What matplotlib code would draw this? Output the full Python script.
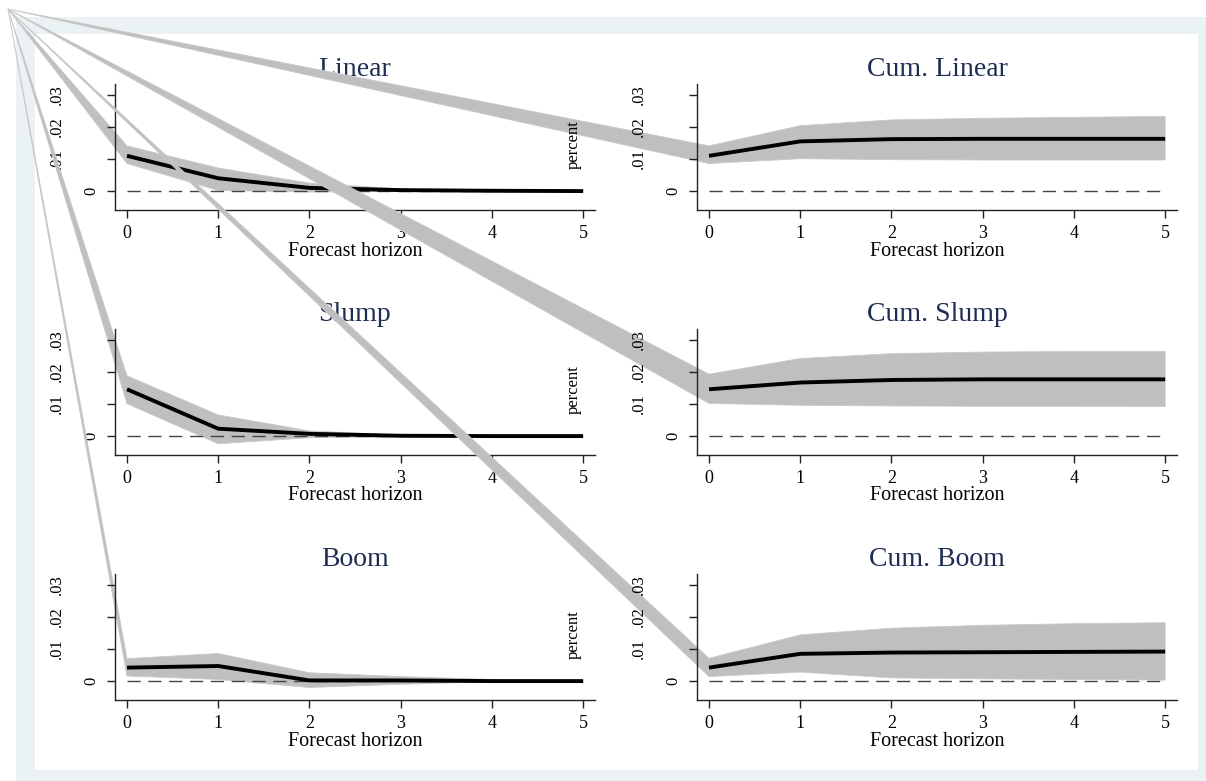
import matplotlib

matplotlib.use("Agg")

import matplotlib.pyplot as plt
from matplotlib.patches import Rectangle

plt.rcParams["font.family"] = ["Liberation Serif", "DejaVu Serif"]

W, H = 1206, 781
DPI = 100

horizon = [0, 1, 2, 3, 4, 5]
y_ticks = [0.0, 0.01, 0.02, 0.03]
y_tick_labels = ["0", ".01", ".02", ".03"]

linear_irf = [0.0110, 0.0040, 0.0010, 0.0003, 0.0001, 0.0000]
linear_hi = [0.0141, 0.0072, 0.0025, 0.0007, 0.0003, 0.0001]
linear_lo = [0.0086, 0.0002, -0.0003, -0.0001, 0.0000, 0.0000]

cum_linear_irf = [0.0110, 0.0155, 0.0162, 0.0163, 0.0163, 0.0163]
cum_linear_hi = [0.0141, 0.0204, 0.0222, 0.0227, 0.0230, 0.0233]
cum_linear_lo = [0.0086, 0.0101, 0.0098, 0.0097, 0.0097, 0.0097]

slump_irf = [0.0146, 0.0023, 0.0007, 0.0001, 0.0000, 0.0000]
slump_hi = [0.0188, 0.0066, 0.0016, 0.0003, 0.0001, 0.0000]
slump_lo = [0.0101, -0.0024, -0.0005, -0.0002, 0.0000, 0.0000]

cum_slump_irf = [0.0146, 0.0167, 0.0175, 0.0177, 0.0177, 0.0177]
cum_slump_hi = [0.0193, 0.0242, 0.0257, 0.0262, 0.0264, 0.0264]
cum_slump_lo = [0.0102, 0.0096, 0.0094, 0.0093, 0.0093, 0.0092]

boom_irf = [0.0042, 0.0047, 0.0002, 0.0002, 0.0000, 0.0000]
boom_hi = [0.0070, 0.0086, 0.0026, 0.0014, 0.0005, 0.0002]
boom_lo = [0.0016, 0.0005, -0.0020, -0.0010, -0.0002, -0.0001]

cum_boom_irf = [0.0042, 0.0085, 0.0089, 0.0090, 0.0091, 0.0092]
cum_boom_hi = [0.0071, 0.0144, 0.0165, 0.0174, 0.0179, 0.0182]
cum_boom_lo = [0.0014, 0.0028, 0.0010, 0.0007, 0.0005, 0.0003]

# drawing order matters: each band's stray vertex at the page corner
# paints over the panels drawn before it
panels = [
    ("Linear", linear_irf, linear_lo, linear_hi, 0, 0),
    ("Cum. Linear", cum_linear_irf, cum_linear_lo, cum_linear_hi, 0, 1),
    ("Slump", slump_irf, slump_lo, slump_hi, 1, 0),
    ("Cum. Slump", cum_slump_irf, cum_slump_lo, cum_slump_hi, 1, 1),
    ("Boom", boom_irf, boom_lo, boom_hi, 2, 0),
    ("Cum. Boom", cum_boom_irf, cum_boom_lo, cum_boom_hi, 2, 1),
]

BG = "#eaf2f3"
BAND = "#bfbfbf"
TITLE = "#1e2d53"
CORNER = (8 / W, 1 - 9 / H)

fig = plt.figure(figsize=(W / DPI, H / DPI), dpi=DPI, facecolor="white")
fig.patches.append(Rectangle((16 / W, 0), 1, 1 - 17 / H, transform=fig.transFigure,
                             facecolor=BG, edgecolor="none", zorder=-10))
fig.patches.append(Rectangle((35 / W, 11 / H), 1163 / W, 736 / H, transform=fig.transFigure,
                             facecolor="white", edgecolor="none", zorder=-9))

col_x = [115 / W, 697 / W]
row_bottom = [1 - 210 / H, 1 - 455 / H, 1 - 700 / H]
ax_w, ax_h = 480 / W, 126 / H

for title, irf, lo, hi, row, col in panels:
    ax = fig.add_axes([col_x[col], row_bottom[row], ax_w, ax_h])
    ax.patch.set_visible(False)
    ax.set_xlim(-0.1316, 5.13)
    ax.set_ylim(-0.0059, 0.0334)

    # band polygon with the extra vertex at the page corner
    cx, cy = ax.transData.inverted().transform(fig.transFigure.transform(CORNER))
    xs = [cx] + horizon + horizon[::-1]
    ys = [cy] + hi + lo[::-1]
    ax.fill(xs, ys, facecolor=BAND, edgecolor="#c9c9c9", linewidth=0.6,
            clip_on=False, zorder=1)

    zero, = ax.plot([horizon[0], horizon[-1]], [0, 0], color="#444444", lw=1.0, zorder=1.5)
    zero.set_dashes((9.5, 5.5))
    ax.plot(horizon, irf, color="black", lw=2.8, solid_capstyle="butt", zorder=2)

    for side in ("top", "right"):
        ax.spines[side].set_visible(False)
    for side in ("left", "bottom"):
        ax.spines[side].set_color("#222222")
        ax.spines[side].set_linewidth(1.0)

    ax.set_xticks(horizon)
    ax.set_xticklabels([str(h) for h in horizon], fontsize=13)
    ax.set_yticks(y_ticks)
    ax.set_yticklabels([])
    ax.tick_params(axis="both", direction="out", length=5.8, width=1.0, color="#222222")
    ax.tick_params(axis="x", pad=4.8)

    for val, lab in zip(y_ticks, y_tick_labels):
        dx = -24 if lab == "0" else -58
        ax.annotate(lab, xy=(0, val), xycoords=("axes fraction", "data"),
                    xytext=(dx, 0), textcoords="offset pixels", rotation=90,
                    ha="center", va="center", fontsize=12)

    ax.annotate("Forecast horizon", xy=(0.5, 0), xycoords="axes fraction",
                xytext=(0, -41), textcoords="offset pixels",
                ha="center", va="center", fontsize=14.5)
    ax.set_title(title, color=TITLE, fontsize=20, pad=5.5)

    if col == 1:
        ax.text(574 / W, 1 - (145 + 245 * row) / H, "percent", transform=fig.transFigure,
                rotation=90, ha="center", va="center", fontsize=12)

fig.savefig("out.png", dpi=DPI, facecolor="white")
